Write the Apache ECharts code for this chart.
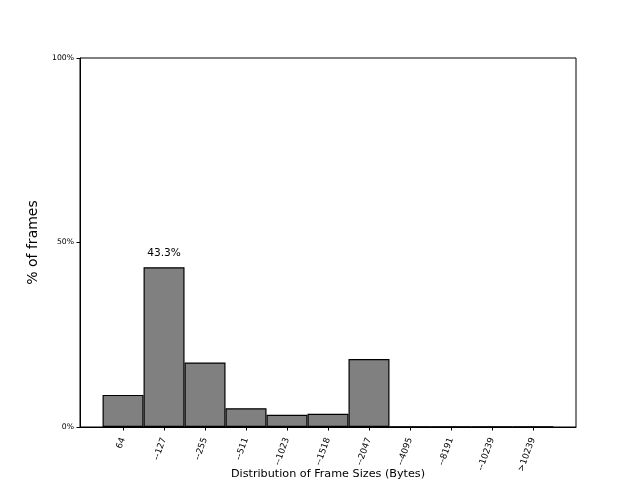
<!DOCTYPE html>
<html>
<head>
<meta charset="utf-8">
<script src="https://cdn.jsdelivr.net/npm/echarts@6/dist/echarts.min.js"></script>
<style>html,body{margin:0;padding:0;background:#fff;}#c{width:640px;height:480px;}</style>
</head>
<body>
<div id="c"></div>
<script>
var categories = ['64', '--127', '--255', '--511', '--1023', '--1518', '--2047', '--4095', '--8191', '--10239', '>10239'];
var percentValues = [8.7, 43.3, 17.5, 5.1, 3.3, 3.6, 18.4, 0.05, 0.05, 0.05, 0.05];
var yTickValues = [0, 50, 100];
var annotatedIndex = 1;

var chart = echarts.init(document.getElementById('c'), null, {renderer: 'canvas'});
var tickPositions = categories.map(function (c, i) { return i; });
var barData = percentValues.map(function (v, i) {
  var item = {value: [i, v]};
  if (i === annotatedIndex) {
    item.label = {show: true, position: 'top', distance: 8, formatter: v.toFixed(1) + '%',
      color: '#000', fontSize: 10.6, fontFamily: 'DejaVu Sans'};
  }
  return item;
});
chart.setOption({
  animation: false,
  backgroundColor: '#fff',
  grid: {left: 80, right: 64, top: 58, bottom: 53, outerBoundsMode: 'none', containLabel: false,
    show: true, borderColor: '#000', borderWidth: 1, backgroundColor: 'transparent'},
  xAxis: {
    type: 'value', min: -1.05, max: 11.05,
    name: 'Distribution of Frame Sizes (Bytes)', nameLocation: 'middle', nameGap: 42, nameMoveOverlap: false,
    nameTextStyle: {fontSize: 11.2, color: '#000', fontFamily: 'DejaVu Sans'},
    axisLine: {show: true, onZero: false, lineStyle: {color: '#000', width: 1}},
    axisTick: {show: true, length: 3.5, lineStyle: {color: '#000'}, customValues: tickPositions},
    axisLabel: {show: true, rotate: 70, fontSize: 8.8, color: '#000', fontFamily: 'DejaVu Sans', margin: 11,
      customValues: tickPositions,
      formatter: function (v) { return categories[Math.round(v)]; }},
    splitLine: {show: false}
  },
  yAxis: {
    type: 'value', min: 0, max: 100,
    name: '% of frames', nameLocation: 'middle', nameGap: 40, nameMoveOverlap: false,
    nameTextStyle: {fontSize: 14, color: '#000', fontFamily: 'DejaVu Sans'},
    axisLine: {show: true, onZero: false, lineStyle: {color: '#000', width: 1}},
    axisTick: {show: true, length: 3.5, lineStyle: {color: '#000'}, customValues: yTickValues},
    axisLabel: {show: true, fontSize: 7.7, color: '#000', fontFamily: 'DejaVu Sans', margin: 6,
      customValues: yTickValues, formatter: '{value}%'},
    splitLine: {show: false}
  },
  series: [{
    type: 'bar',
    data: barData,
    barWidth: '100%',
    itemStyle: {color: '#808080', borderColor: '#000', borderWidth: 1.2}
  }]
});
</script>
</body>
</html>
